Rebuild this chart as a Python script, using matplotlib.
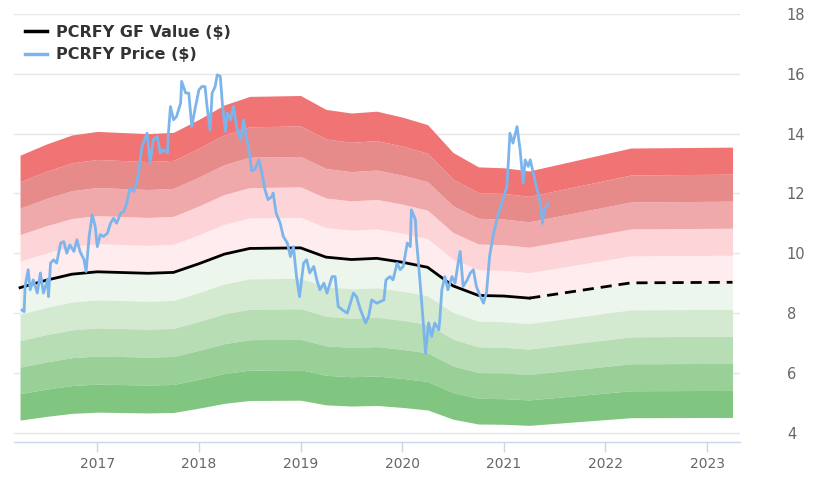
import numpy as np
import matplotlib
matplotlib.use("Agg")
import matplotlib.pyplot as plt

# GF Value nodes (decimal year, $)
gf_years = [2016.24, 2016.50, 2016.75, 2017.00, 2017.50, 2017.75, 2018.00, 2018.25,
            2018.50, 2019.00, 2019.25, 2019.50, 2019.75, 2020.00, 2020.25, 2020.50,
            2020.75, 2021.00, 2021.25, 2022.25, 2023.25]
gf_values = [8.85, 9.10, 9.30, 9.38, 9.33, 9.36, 9.65, 9.97,
             10.16, 10.18, 9.87, 9.79, 9.83, 9.70, 9.53, 8.91,
             8.59, 8.57, 8.50, 9.01, 9.03]
gf_actual_end = 2021.25  # solid up to here, estimate afterwards

# Price (decimal year, $)
price_years = [2016.26, 2016.28, 2016.29, 2016.32, 2016.34, 2016.37, 2016.41, 2016.44,
               2016.47, 2016.51, 2016.52, 2016.54, 2016.57, 2016.60, 2016.64, 2016.67,
               2016.70, 2016.73, 2016.77, 2016.80, 2016.83, 2016.87, 2016.89, 2016.92,
               2016.95, 2016.98, 2017.00, 2017.03, 2017.06, 2017.10, 2017.13, 2017.16,
               2017.19, 2017.23, 2017.26, 2017.29, 2017.32, 2017.36, 2017.39, 2017.41,
               2017.44, 2017.49, 2017.52, 2017.55, 2017.59, 2017.62, 2017.65, 2017.69,
               2017.70, 2017.72, 2017.75, 2017.78, 2017.82, 2017.83, 2017.87, 2017.90,
               2017.93, 2017.96, 2018.00, 2018.03, 2018.06, 2018.08, 2018.11, 2018.13,
               2018.16, 2018.18, 2018.21, 2018.23, 2018.26, 2018.28, 2018.31, 2018.34,
               2018.37, 2018.41, 2018.44, 2018.46, 2018.49, 2018.52, 2018.55, 2018.59,
               2018.62, 2018.65, 2018.68, 2018.72, 2018.73, 2018.76, 2018.80, 2018.83,
               2018.87, 2018.90, 2018.93, 2018.96, 2018.99, 2019.03, 2019.06, 2019.09,
               2019.13, 2019.16, 2019.19, 2019.23, 2019.26, 2019.31, 2019.34, 2019.37,
               2019.41, 2019.46, 2019.49, 2019.52, 2019.55, 2019.59, 2019.64, 2019.67,
               2019.70, 2019.75, 2019.82, 2019.84, 2019.88, 2019.91, 2019.95, 2019.98,
               2020.01, 2020.05, 2020.08, 2020.09, 2020.13, 2020.14, 2020.16, 2020.19,
               2020.23, 2020.26, 2020.29, 2020.32, 2020.36, 2020.37, 2020.39, 2020.42,
               2020.45, 2020.49, 2020.52, 2020.55, 2020.57, 2020.60, 2020.64, 2020.67,
               2020.70, 2020.73, 2020.77, 2020.80, 2020.83, 2020.86, 2020.90, 2020.93,
               2020.96, 2021.00, 2021.03, 2021.04, 2021.06, 2021.09, 2021.13, 2021.16,
               2021.19, 2021.21, 2021.24, 2021.26, 2021.29, 2021.32, 2021.36, 2021.38,
               2021.40, 2021.44]
price_values = [8.10, 8.05, 8.89, 9.45, 8.78, 9.11, 8.67, 9.34,
                8.67, 9.11, 8.55, 9.67, 9.78, 9.67, 10.34, 10.39,
                10.00, 10.28, 10.06, 10.45, 10.06, 9.78, 9.39, 10.56,
                11.28, 10.89, 10.22, 10.62, 10.56, 10.67, 11.00, 11.17,
                11.00, 11.34, 11.39, 11.67, 12.17, 12.06, 12.40, 12.79,
                13.57, 14.01, 13.01, 13.79, 13.90, 13.35, 13.46, 13.35,
                14.01, 14.90, 14.46, 14.57, 15.02, 15.74, 15.35, 15.35,
                14.23, 14.79, 15.46, 15.57, 15.57, 14.90, 14.12, 15.35,
                15.57, 15.96, 15.91, 15.02, 14.07, 14.68, 14.46, 14.90,
                14.23, 13.79, 14.46, 14.00, 13.50, 12.75, 12.80, 13.12,
                12.68, 12.12, 11.79, 11.90, 12.01, 11.34, 11.00, 10.56,
                10.34, 9.89, 10.22, 9.22, 8.55, 9.67, 9.78, 9.34,
                9.56, 9.11, 8.78, 9.00, 8.67, 9.22, 9.22, 8.22,
                8.11, 8.00, 8.33, 8.67, 8.55, 8.11, 7.67, 7.89,
                8.44, 8.33, 8.44, 9.11, 9.22, 9.11, 9.67, 9.45,
                9.56, 10.34, 10.22, 11.45, 11.12, 10.45, 9.67, 8.44,
                6.66, 7.67, 7.22, 7.67, 7.44, 7.78, 8.78, 9.22,
                8.78, 9.22, 9.00, 9.67, 10.06, 8.89, 9.11, 9.34,
                9.45, 8.89, 8.55, 8.33, 8.70, 9.90, 10.67, 11.12,
                11.45, 11.90, 12.23, 12.79, 14.01, 13.68, 14.23, 13.46,
                12.34, 13.12, 12.90, 13.12, 12.68, 12.23, 11.67, 11.00,
                11.45, 11.67]

year_ticks = [2017, 2018, 2019, 2020, 2021, 2022, 2023]
price_ticks = [4, 6, 8, 10, 12, 14, 16, 18]

red_colors = ["#ffecee", "#fdd4d8", "#f0a9aa", "#e78a8a", "#f07474"]
green_colors = ["#edf6ec", "#d3ead1", "#b6ddb3", "#99d097", "#80c680"]

gf = np.array(gf_values)
yrs = np.array(gf_years)

fig = plt.figure(figsize=(8.2, 4.92), dpi=100)
ax = fig.add_axes([0.017, 0.102, 0.885, 0.870])

# valuation bands, 10% steps
for k in range(5):
    ax.fill_between(yrs, gf * (1 + 0.1 * k), gf * (1 + 0.1 * (k + 1)),
                    color=red_colors[k], lw=0, zorder=1)
    ax.fill_between(yrs, gf * (1 - 0.1 * (k + 1)), gf * (1 - 0.1 * k),
                    color=green_colors[k], lw=0, zorder=1)

solid = yrs <= gf_actual_end
dashed = yrs >= gf_actual_end
ax.plot(yrs[solid], gf[solid], color="black", lw=2, zorder=3,
        label="PCRFY GF Value ($)")
ax.plot(yrs[dashed], gf[dashed], color="black", lw=2, ls=(0, (4, 2.5)), zorder=3)
ax.plot(price_years, price_values, color="#7cb5ec", lw=2, zorder=4,
        label="PCRFY Price ($)")

ax.set_xlim(2016.18, 2023.32)
ax.set_ylim(3.7, 18)
ax.set_xticks(year_ticks)
ax.set_xticklabels([str(y) for y in year_ticks])
ax.set_yticks(price_ticks)

ax.grid(axis="y", color="#e6e6e6", lw=1, zorder=0)
ax.set_axisbelow(True)
for side in ["top", "left", "right"]:
    ax.spines[side].set_visible(False)
ax.spines["bottom"].set_color("#ccd6eb")
ax.spines["bottom"].set_linewidth(1)

ax.yaxis.tick_right()
ax.tick_params(axis="y", length=0, pad=34, labelsize=10.5, labelcolor="#666666")
ax.tick_params(axis="x", length=7, width=1, color="#ccd6eb", pad=4,
               labelsize=10, labelcolor="#666666")

leg = ax.legend(loc="upper left", bbox_to_anchor=(0.0, 1.0), frameon=False,
                handlelength=1.4, handletextpad=0.55, borderaxespad=0.4,
                borderpad=0.3, labelspacing=0.45,
                prop={"weight": "bold", "size": 11.5})
for t in leg.get_texts():
    t.set_color("#333333")
for h in leg.legend_handles:
    h.set_linewidth(2.5)

fig.savefig("out.png", dpi=100)
